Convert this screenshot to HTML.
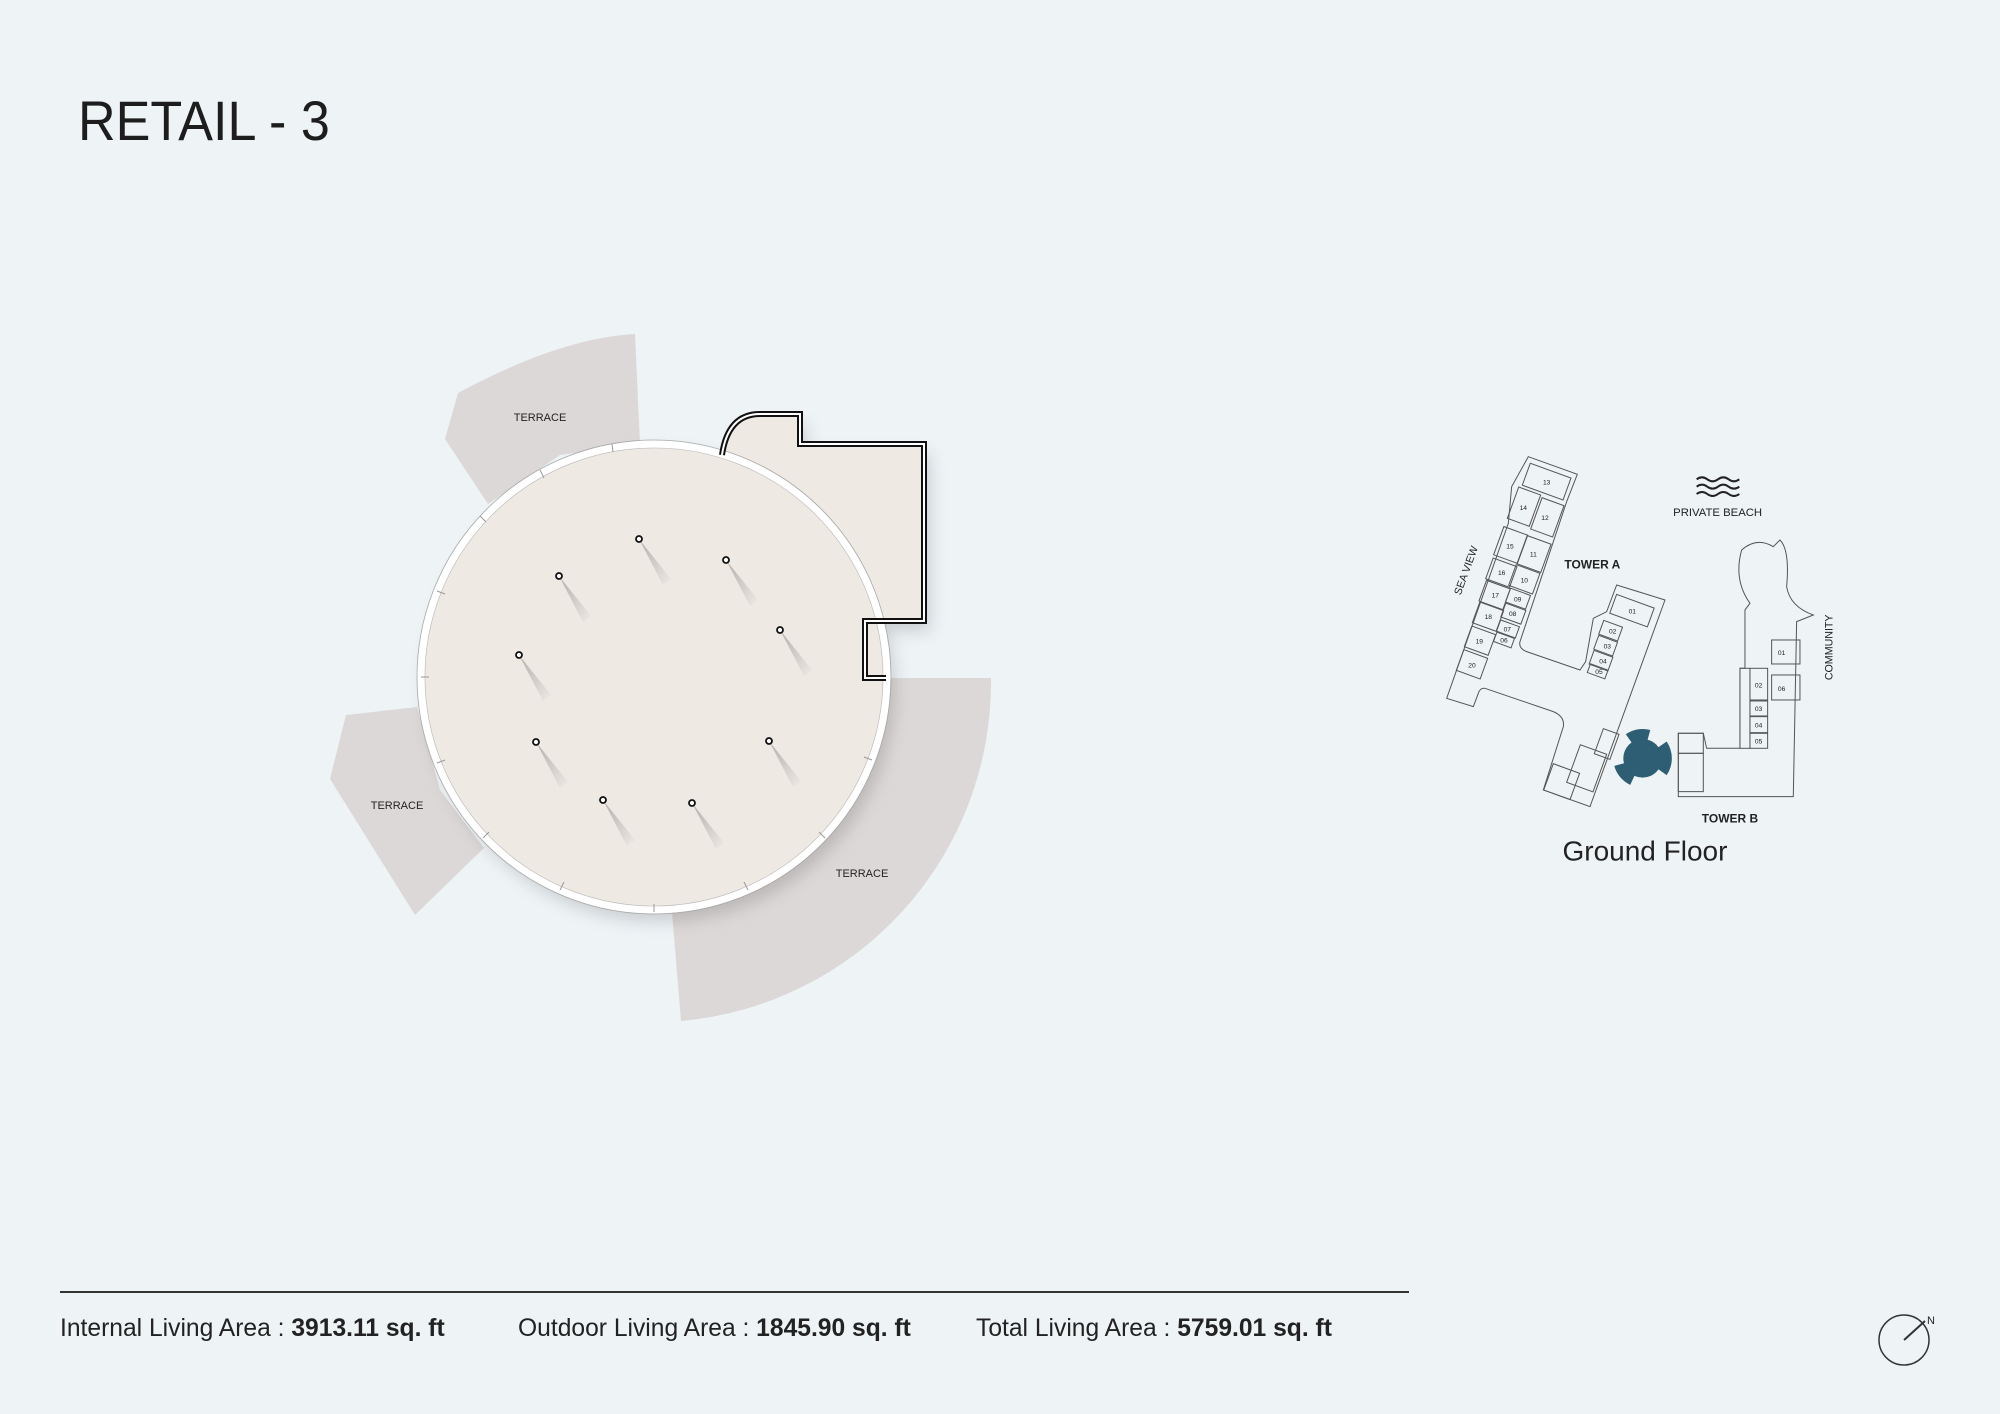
<!DOCTYPE html>
<html><head><meta charset="utf-8"><style>
html,body{margin:0;padding:0;background:#eef3f6;}
body{width:2000px;height:1414px;position:relative;overflow:hidden;font-family:"Liberation Sans",sans-serif;}
.t{position:absolute;white-space:nowrap;color:#222;transform-origin:0 0;}
</style></head><body>
<div class="t" style="left:78px;top:88px;font-size:56px;color:#1d1d1d;transform:scaleX(0.93);">RETAIL - 3</div>
<div style="position:absolute;left:60px;top:1291px;width:1349px;height:2px;background:#333;"></div>
<div class="t" style="left:60px;top:1314px;font-size:25px;transform:scaleX(0.985);">Internal Living Area : <b>3913.11 sq. ft</b></div>
<div class="t" style="left:518px;top:1314px;font-size:25px;transform:scaleX(0.985);">Outdoor Living Area : <b>1845.90 sq. ft</b></div>
<div class="t" style="left:976px;top:1314px;font-size:25px;transform:scaleX(0.985);">Total Living Area : <b>5759.01 sq. ft</b></div>
<svg width="2000" height="1414" style="position:absolute;left:0;top:0" xmlns="http://www.w3.org/2000/svg">
<defs>
<filter id="sh" x="-20%" y="-20%" width="140%" height="140%"><feDropShadow dx="6" dy="10" stdDeviation="8" flood-color="#000" flood-opacity="0.15"/></filter>
<linearGradient id="cs" x1="0" y1="0" x2="1" y2="1"><stop offset="0" stop-color="#000" stop-opacity="0.25"/><stop offset="1" stop-color="#000" stop-opacity="0"/></linearGradient>
</defs>
<g fill="#dcd8d7">
<path d="M635,334 Q560,338 458,393 L445,439 L488,504 L560,455 L640,444 Z"/>
<path d="M417,707 L346,715 L330,779 L415,915 L484,848 L440,790 Z"/>
<path d="M890,678 L991,678 A340 340 0 0 1 681,1021 L672,912 A235 235 0 0 0 890,678 Z"/>
</g>
<g font-size="11" fill="#222" text-anchor="middle">
<text x="540" y="421">TERRACE</text>
<text x="397" y="809">TERRACE</text>
<text x="862" y="877">TERRACE</text>
</g>
<g filter="url(#sh)">
<path d="M722,455 Q728,414 760,414 L800,414 L800,444 L924,444 L924,621 L865,621 L865,678 L886,678 L700,700 Z" fill="#efe9e4"/>
<circle cx="654" cy="677" r="235" fill="#efe9e4"/>
</g>
<circle cx="654" cy="677" r="233" fill="none" stroke="#fff" stroke-width="7"/>
<circle cx="654" cy="677" r="237" fill="none" stroke="#aaa" stroke-width="0.8"/>
<circle cx="654" cy="677" r="229" fill="none" stroke="#bbb" stroke-width="0.6"/>
<g stroke="#999" stroke-width="1">
<line x1="540" y1="470" x2="544" y2="478"/><line x1="480" y1="516" x2="486" y2="522"/><line x1="437" y1="591" x2="445" y2="594"/>
<line x1="421" y1="677" x2="429" y2="677"/><line x1="437" y1="763" x2="445" y2="760"/><line x1="483" y1="838" x2="489" y2="832"/>
<line x1="560" y1="890" x2="564" y2="882"/><line x1="654" y1="912" x2="654" y2="904"/><line x1="748" y1="890" x2="744" y2="882"/>
<line x1="825" y1="838" x2="819" y2="832"/><line x1="872" y1="760" x2="864" y2="757"/><line x1="612" y1="444" x2="613" y2="452"/>
</g>
<path d="M722,455 Q728,414 760,414 L800,414 L800,444 L924,444 L924,621 L865,621 L865,678 L886,678" fill="none" stroke="#111" stroke-width="6"/>
<path d="M722,455 Q728,414 760,414 L800,414 L800,444 L924,444 L924,621 L865,621 L865,678 L886,678" fill="none" stroke="#fff" stroke-width="2"/>
<g>
<g transform="translate(639,539)"><path d="M0,0 L32,40 L24,46 Z" fill="url(#cs)"/><circle r="3" fill="#fff" stroke="#111" stroke-width="1.8"/></g>
<g transform="translate(726,560)"><path d="M0,0 L32,40 L24,46 Z" fill="url(#cs)"/><circle r="3" fill="#fff" stroke="#111" stroke-width="1.8"/></g>
<g transform="translate(559,576)"><path d="M0,0 L32,40 L24,46 Z" fill="url(#cs)"/><circle r="3" fill="#fff" stroke="#111" stroke-width="1.8"/></g>
<g transform="translate(780,630)"><path d="M0,0 L32,40 L24,46 Z" fill="url(#cs)"/><circle r="3" fill="#fff" stroke="#111" stroke-width="1.8"/></g>
<g transform="translate(519,655)"><path d="M0,0 L32,40 L24,46 Z" fill="url(#cs)"/><circle r="3" fill="#fff" stroke="#111" stroke-width="1.8"/></g>
<g transform="translate(536,742)"><path d="M0,0 L32,40 L24,46 Z" fill="url(#cs)"/><circle r="3" fill="#fff" stroke="#111" stroke-width="1.8"/></g>
<g transform="translate(769,741)"><path d="M0,0 L32,40 L24,46 Z" fill="url(#cs)"/><circle r="3" fill="#fff" stroke="#111" stroke-width="1.8"/></g>
<g transform="translate(603,800)"><path d="M0,0 L32,40 L24,46 Z" fill="url(#cs)"/><circle r="3" fill="#fff" stroke="#111" stroke-width="1.8"/></g>
<g transform="translate(692,803)"><path d="M0,0 L32,40 L24,46 Z" fill="url(#cs)"/><circle r="3" fill="#fff" stroke="#111" stroke-width="1.8"/></g>
</g>
<g transform="translate(1420,440) scale(0.3333)" fill="none" stroke="#555" stroke-width="3">
<path d="M325,50 L472,103 L440,185 L395,320 L300,605 Q295,625 320,635 L480,690 L497,665 L520,535 L560,515 L590,435 L735,480 L510,1100 L370,1050 L430,860 Q435,830 400,815 L195,745 Q180,743 175,760 L160,800 L80,775 L265,250 L275,140 Z"/>
<g>
<rect x="-65" y="-35" width="130" height="70" transform="translate(380,125) rotate(20)"/>
<rect x="-35" y="-50" width="70" height="100" transform="translate(312,200) rotate(20)"/>
<rect x="-35" y="-50" width="70" height="100" transform="translate(382,232) rotate(20)"/>
<rect x="-38" y="-45" width="76" height="90" transform="translate(272,315) rotate(20)"/>
<rect x="-38" y="-45" width="76" height="90" transform="translate(342,342) rotate(20)"/>
<rect x="-38" y="-33" width="76" height="66" transform="translate(244,398) rotate(20)"/>
<rect x="-38" y="-33" width="76" height="66" transform="translate(313,418) rotate(20)"/>
<rect x="-38" y="-33" width="76" height="66" transform="translate(224,465) rotate(20)"/>
<rect x="-32" y="-22" width="64" height="44" transform="translate(294,476) rotate(20)"/>
<rect x="-38" y="-33" width="76" height="66" transform="translate(204,530) rotate(20)"/>
<rect x="-32" y="-22" width="64" height="44" transform="translate(280,521) rotate(20)"/>
<rect x="-38" y="-33" width="76" height="66" transform="translate(180,602) rotate(20)"/>
<rect x="-30" y="-18" width="60" height="36" transform="translate(264,567) rotate(20)"/>
<rect x="-28" y="-15" width="56" height="30" transform="translate(252,600) rotate(20)"/>
<rect x="-38" y="-33" width="76" height="66" transform="translate(156,673) rotate(20)"/>
<rect x="-60" y="-30" width="120" height="60" transform="translate(636,512) rotate(20)"/>
<rect x="-30" y="-22" width="60" height="44" transform="translate(572,572) rotate(20)"/>
<rect x="-30" y="-22" width="60" height="44" transform="translate(557,617) rotate(20)"/>
<rect x="-30" y="-22" width="60" height="44" transform="translate(543,662) rotate(20)"/>
<rect x="-28" y="-14" width="56" height="28" transform="translate(533,694) rotate(20)"/>
<rect x="-25" y="-40" width="50" height="80" transform="translate(560,912) rotate(20)"/>
<rect x="-42" y="-60" width="84" height="120" transform="translate(500,985) rotate(20)"/>
<rect x="-42" y="-42" width="84" height="84" transform="translate(425,1025) rotate(20)"/>
</g>
<path d="M975,510 L990,490 Q940,420 965,330 Q1010,290 1060,320 L1080,300 Q1110,330 1100,440 Q1110,500 1180,525 L1130,545 L1120,1070 L775,1070 L775,880 L850,880 L860,925 L960,925 L960,685 L975,685 Z"/>
<rect x="1055" y="600" width="85" height="72"/><rect x="1055" y="705" width="85" height="75"/>
<rect x="990" y="685" width="53" height="95"/><rect x="990" y="783" width="53" height="45"/><rect x="990" y="830" width="53" height="48"/><rect x="990" y="880" width="53" height="45"/>
<rect x="960" y="685" width="30" height="240"/>
<rect x="775" y="880" width="75" height="60"/><rect x="775" y="940" width="75" height="115"/>
<path d="M830,118 q16,-12 32,0 t32,0 t32,0 t32,0 M830,140 q16,-12 32,0 t32,0 t32,0 t32,0 M830,162 q16,-12 32,0 t32,0 t32,0 t32,0" stroke="#222" stroke-width="6"/>
<g fill="#2e5e73" stroke="none">
<circle cx="668" cy="955" r="58"/>
<path d="M617.5,882.9 A88 88 0 0 1 690.8,870 L682.2,901.9 A55 55 0 0 0 636.4,910 Z"/>
<path d="M740.1,904.5 A90 90 0 0 1 740.1,1005.5 L713,986.5 A55 55 0 0 0 713,923.5 Z"/>
<path d="M630.8,1034.7 A88 88 0 0 1 583,977.8 L614.9,969.2 A55 55 0 0 0 644.7,1004.8 Z"/>
</g>
<g fill="#222" stroke="none" font-family="Liberation Sans,sans-serif" text-anchor="middle">
<text x="893" y="228" font-size="34">PRIVATE BEACH</text>
<text x="517" y="386" font-size="36" font-weight="bold">TOWER A</text>
<text x="930" y="1147" font-size="36" font-weight="bold">TOWER B</text>
<text x="675" y="1262" font-size="84">Ground Floor</text>
<text x="0" y="0" font-size="32" transform="translate(148,395) rotate(-70)">SEA VIEW</text>
<text x="0" y="0" font-size="32" transform="translate(1238,622) rotate(-90)">COMMUNITY</text>
<g font-size="20">
<text x="380" y="133">13</text><text x="310" y="210">14</text><text x="375" y="240">12</text>
<text x="270" y="325">15</text><text x="340" y="350">11</text><text x="245" y="405">16</text><text x="313" y="427">10</text>
<text x="226" y="472">17</text><text x="293" y="484">09</text><text x="205" y="537">18</text><text x="278" y="528">08</text>
<text x="178" y="610">19</text><text x="262" y="575">07</text><text x="252" y="607">06</text><text x="156" y="682">20</text>
<text x="637" y="520">01</text><text x="578" y="580">02</text><text x="562" y="625">03</text><text x="549" y="670">04</text><text x="537" y="702">05</text>
<text x="1085" y="645">01</text><text x="1085" y="753">06</text><text x="1016" y="742">02</text><text x="1016" y="813">03</text><text x="1016" y="862">04</text><text x="1016" y="910">05</text>
</g>
</g>
</g>
<circle cx="1904" cy="1340" r="25" fill="none" stroke="#333" stroke-width="1.5"/>
<line x1="1904" y1="1340" x2="1925" y2="1321" stroke="#333" stroke-width="2"/>
<text x="1927" y="1324" font-size="11" font-family="Liberation Sans,sans-serif" fill="#222">N</text>
</svg>
</body></html>
